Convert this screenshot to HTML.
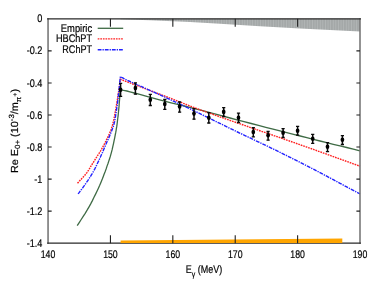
<!DOCTYPE html>
<html><head><meta charset="utf-8"><style>
html,body{margin:0;padding:0;background:#fff;}
svg{display:block;}
svg text{text-rendering:geometricPrecision;}
text{font-family:"Liberation Sans",sans-serif;font-size:11px;fill:#000;stroke:#000;stroke-width:0.2px;}
</style></head><body>
<svg width="374" height="291" viewBox="0 0 374 291">
<defs><pattern id="hatch" width="2.6" height="20" patternUnits="userSpaceOnUse"><rect width="2.6" height="20" fill="#a4a8a8"/><rect x="0" width="0.8" height="20" fill="#b3b7b7"/></pattern><filter id="tb" x="0" y="0" width="374" height="291" filterUnits="userSpaceOnUse"><feGaussianBlur stdDeviation="0.3"/></filter></defs>
<rect width="374" height="291" fill="#fff"/>
<path d="M120.5,18.85 L120.5,19.2 L150,20.3 L190,21.9 L220,23.8 L260,26.2 L300,28.5 L320,29.6 L360,31.4 L360,18.85 Z" fill="url(#hatch)"/>
<path d="M77.2,225.7 L79.2,222.6 L81.2,219.5 L83.2,216.4 L85.2,213.3 L87.1,210.2 L88.9,207.1 L90.7,203.9 L92.4,200.6 L94.0,197.3 L95.6,194.1 L97.1,191.0 L98.4,188.2 L99.6,185.6 L100.6,183.2 L101.5,180.9 L102.4,178.8 L103.2,176.7 L103.9,174.8 L104.6,173.0 L105.2,171.5 L105.7,170.1 L106.2,168.7 L106.7,167.1 L107.3,165.4 L108.0,163.5 L108.7,161.4 L109.4,159.2 L110.1,157.0 L110.8,154.6 L111.5,152.1 L112.2,149.4 L112.8,146.6 L113.5,143.6 L114.1,140.7 L114.7,137.8 L115.2,135.1 L115.7,132.7 L116.1,130.5 L116.4,128.3 L116.8,126.2 L117.1,124.0 L117.4,121.5 L117.7,118.8 L118.1,115.8 L118.4,112.8 L118.7,109.7 L119.0,106.8 L119.2,104.0 L119.4,101.4 L119.6,99.0 L119.8,96.7 L119.9,94.4 L120.0,92.1 L120.2,89.8 L121.5,90.0 L122.5,90.2 L123.5,90.3 L124.9,90.6 L126.9,91.0 L130.0,91.8 L134.4,93.0 L139.8,94.4 L145.9,96.1 L152.3,97.9 L158.6,99.6 L164.6,101.2 L170.1,102.6 L175.4,103.9 L180.7,105.2 L186.1,106.5 L191.7,107.8 L197.5,109.3 L203.7,110.9 L210.0,112.6 L216.6,114.4 L223.3,116.2 L230.1,118.0 L237.0,119.8 L244.0,121.6 L251.2,123.5 L258.5,125.4 L265.8,127.3 L273.0,129.1 L280.0,130.9 L286.8,132.6 L293.6,134.4 L300.2,136.0 L306.8,137.7 L313.4,139.3 L320.0,141.0 L326.7,142.7 L333.3,144.3 L340.0,145.9 L346.7,147.5 L353.3,149.2 L360.0,150.8" fill="none" stroke="#3f6b45" stroke-width="1.3"/>
<path d="M77.5,183.2 L78.9,181.7 L80.4,180.1 L81.8,178.6 L83.2,177.1 L84.6,175.5 L85.9,173.9 L87.1,172.3 L88.2,170.7 L89.2,169.1 L90.2,167.4 L91.3,165.5 L92.6,163.5 L94.0,161.3 L95.6,158.8 L97.2,156.2 L98.9,153.6 L100.5,151.0 L102.0,148.4 L103.4,145.8 L104.8,143.2 L106.1,140.6 L107.4,138.0 L108.6,135.5 L109.6,133.2 L110.5,131.1 L111.2,129.3 L111.7,127.6 L112.3,125.8 L112.8,123.9 L113.4,121.5 L114.0,118.7 L114.6,115.7 L115.2,112.4 L115.8,109.0 L116.4,105.5 L117.0,102.0 L117.6,98.4 L118.1,94.7 L118.7,90.9 L119.3,87.0 L119.8,83.1 L120.4,79.3 L121.7,79.8 L122.7,80.1 L123.6,80.5 L124.9,81.0 L126.9,81.7 L130.0,82.9 L134.4,84.6 L139.9,86.6 L146.1,89.0 L152.6,91.5 L159.0,93.9 L165.0,96.2 L170.5,98.3 L175.7,100.4 L180.9,102.4 L186.2,104.5 L191.7,106.6 L197.5,108.8 L203.7,111.1 L210.2,113.4 L216.9,115.8 L223.7,118.2 L230.6,120.6 L237.5,123.0 L244.5,125.4 L251.6,127.9 L258.8,130.4 L265.9,132.8 L273.0,135.3 L280.0,137.7 L286.8,140.1 L293.5,142.4 L300.2,144.8 L306.8,147.1 L313.4,149.4 L320.0,151.8 L326.7,154.2 L333.3,156.6 L340.0,159.0 L346.7,161.4 L353.3,163.8 L360.0,166.2" fill="none" stroke="#ff2020" stroke-width="1.4" stroke-dasharray="1.7 0.9"/>
<path d="M78.1,193.9 L79.3,192.4 L80.4,190.8 L81.6,189.3 L82.7,187.8 L83.9,186.2 L85.1,184.5 L86.3,182.7 L87.6,180.9 L88.9,178.9 L90.1,177.0 L91.4,175.0 L92.6,172.9 L93.8,170.8 L94.9,168.7 L96.0,166.5 L97.0,164.3 L98.1,162.0 L99.2,159.7 L100.3,157.3 L101.4,154.7 L102.6,152.2 L103.7,149.6 L104.8,147.0 L105.8,144.6 L106.8,142.2 L107.9,139.9 L108.9,137.6 L109.8,135.4 L110.7,133.3 L111.5,131.3 L112.2,129.6 L112.7,128.1 L113.2,126.8 L113.7,125.4 L114.1,123.7 L114.6,121.5 L115.1,118.9 L115.6,115.9 L116.1,112.7 L116.6,109.3 L117.1,105.7 L117.6,102.0 L118.1,98.1 L118.5,94.0 L119.0,89.7 L119.5,85.3 L119.9,80.9 L120.4,76.6 L121.7,77.3 L122.7,77.8 L123.6,78.4 L124.9,79.1 L126.9,80.1 L130.0,81.5 L134.4,83.5 L139.9,85.9 L146.1,88.7 L152.6,91.6 L159.0,94.5 L165.0,97.2 L170.5,99.7 L175.7,102.2 L180.9,104.6 L186.2,107.1 L191.7,109.7 L197.5,112.5 L203.7,115.5 L210.2,118.7 L216.9,121.9 L223.7,125.3 L230.6,128.7 L237.5,132.0 L244.5,135.3 L251.6,138.7 L258.8,142.1 L265.9,145.5 L273.0,148.9 L280.0,152.3 L286.8,155.7 L293.5,159.1 L300.2,162.4 L306.8,165.8 L313.4,169.2 L320.0,172.7 L326.7,176.2 L333.3,179.7 L340.0,183.3 L346.7,186.9 L353.3,190.4 L360.0,194.0" fill="none" stroke="#2222ff" stroke-width="1.4" stroke-dasharray="3.8 1 1.3 1"/>
<path d="M120.6,83.2 V96.6" stroke="#0a0a0a" stroke-width="1.5" fill="none"/><path d="M119.0,83.4 H122.19999999999999 M119.0,96.39999999999999 H122.19999999999999" stroke="#0a0a0a" stroke-width="1.3" fill="none"/>
<ellipse cx="120.6" cy="89.8" rx="1.85" ry="2.3" fill="#000"/>
<path d="M135.4,82.7 V94.4" stroke="#0a0a0a" stroke-width="1.5" fill="none"/><path d="M133.8,82.9 H137.0 M133.8,94.2 H137.0" stroke="#0a0a0a" stroke-width="1.3" fill="none"/>
<ellipse cx="135.4" cy="88.1" rx="1.85" ry="2.3" fill="#000"/>
<path d="M150.3,94.2 V105.7" stroke="#0a0a0a" stroke-width="1.5" fill="none"/><path d="M148.70000000000002,94.4 H151.9 M148.70000000000002,105.5 H151.9" stroke="#0a0a0a" stroke-width="1.3" fill="none"/>
<ellipse cx="150.3" cy="99.7" rx="1.85" ry="2.3" fill="#000"/>
<path d="M164.8,99.3 V109.5" stroke="#0a0a0a" stroke-width="1.5" fill="none"/><path d="M163.20000000000002,99.5 H166.4 M163.20000000000002,109.3 H166.4" stroke="#0a0a0a" stroke-width="1.3" fill="none"/>
<ellipse cx="164.8" cy="104" rx="1.85" ry="2.3" fill="#000"/>
<path d="M179.6,101.8 V112.3" stroke="#0a0a0a" stroke-width="1.5" fill="none"/><path d="M178.0,102.0 H181.2 M178.0,112.1 H181.2" stroke="#0a0a0a" stroke-width="1.3" fill="none"/>
<ellipse cx="179.6" cy="106.5" rx="1.85" ry="2.3" fill="#000"/>
<path d="M194,108.39999999999999 V119.4" stroke="#0a0a0a" stroke-width="1.5" fill="none"/><path d="M192.4,108.6 H195.6 M192.4,119.2 H195.6" stroke="#0a0a0a" stroke-width="1.3" fill="none"/>
<ellipse cx="194" cy="113.6" rx="1.85" ry="2.3" fill="#000"/>
<path d="M208.8,112.5 V123.2" stroke="#0a0a0a" stroke-width="1.5" fill="none"/><path d="M207.20000000000002,112.7 H210.4 M207.20000000000002,123.0 H210.4" stroke="#0a0a0a" stroke-width="1.3" fill="none"/>
<ellipse cx="208.8" cy="117.7" rx="1.85" ry="2.3" fill="#000"/>
<path d="M223.7,107.39999999999999 V116.7" stroke="#0a0a0a" stroke-width="1.5" fill="none"/><path d="M222.1,107.6 H225.29999999999998 M222.1,116.5 H225.29999999999998" stroke="#0a0a0a" stroke-width="1.3" fill="none"/>
<ellipse cx="223.7" cy="111.9" rx="1.85" ry="2.3" fill="#000"/>
<path d="M238.5,113.0 V122.7" stroke="#0a0a0a" stroke-width="1.5" fill="none"/><path d="M236.9,113.2 H240.1 M236.9,122.5 H240.1" stroke="#0a0a0a" stroke-width="1.3" fill="none"/>
<ellipse cx="238.5" cy="117.7" rx="1.85" ry="2.3" fill="#000"/>
<path d="M253.3,127.5 V137" stroke="#0a0a0a" stroke-width="1.5" fill="none"/><path d="M251.70000000000002,127.7 H254.9 M251.70000000000002,136.8 H254.9" stroke="#0a0a0a" stroke-width="1.3" fill="none"/>
<ellipse cx="253.3" cy="132" rx="1.85" ry="2.3" fill="#000"/>
<path d="M268.1,131.3 V140.3" stroke="#0a0a0a" stroke-width="1.5" fill="none"/><path d="M266.5,131.5 H269.70000000000005 M266.5,140.10000000000002 H269.70000000000005" stroke="#0a0a0a" stroke-width="1.3" fill="none"/>
<ellipse cx="268.1" cy="135.3" rx="1.85" ry="2.3" fill="#000"/>
<path d="M283.1,128.4 V137.7" stroke="#0a0a0a" stroke-width="1.5" fill="none"/><path d="M281.5,128.6 H284.70000000000005 M281.5,137.5 H284.70000000000005" stroke="#0a0a0a" stroke-width="1.3" fill="none"/>
<ellipse cx="283.1" cy="132.8" rx="1.85" ry="2.3" fill="#000"/>
<path d="M297.6,126.2 V135.4" stroke="#0a0a0a" stroke-width="1.5" fill="none"/><path d="M296.0,126.4 H299.20000000000005 M296.0,135.20000000000002 H299.20000000000005" stroke="#0a0a0a" stroke-width="1.3" fill="none"/>
<ellipse cx="297.6" cy="130.7" rx="1.85" ry="2.3" fill="#000"/>
<path d="M312.7,134.20000000000002 V143.5" stroke="#0a0a0a" stroke-width="1.5" fill="none"/><path d="M311.09999999999997,134.4 H314.3 M311.09999999999997,143.3 H314.3" stroke="#0a0a0a" stroke-width="1.3" fill="none"/>
<ellipse cx="312.7" cy="138.7" rx="1.85" ry="2.3" fill="#000"/>
<path d="M327.5,142.5 V151.8" stroke="#0a0a0a" stroke-width="1.5" fill="none"/><path d="M325.9,142.7 H329.1 M325.9,151.60000000000002 H329.1" stroke="#0a0a0a" stroke-width="1.3" fill="none"/>
<ellipse cx="327.5" cy="146.7" rx="1.85" ry="2.3" fill="#000"/>
<path d="M342.4,135.5 V144.7" stroke="#0a0a0a" stroke-width="1.5" fill="none"/><path d="M340.79999999999995,135.7 H344.0 M340.79999999999995,144.5 H344.0" stroke="#0a0a0a" stroke-width="1.3" fill="none"/>
<ellipse cx="342.4" cy="139.7" rx="1.85" ry="2.3" fill="#000"/>
<path d="M48.05,18.25 V243.79999999999998 M360.0,18.25 V243.79999999999998" stroke="#707070" stroke-width="1.5" fill="none"/>
<path d="M47.15,18.85 H360.9 M47.15,243.2 H360.9" stroke="#2a2a2a" stroke-width="1.3" fill="none"/>
<path d="M120.6,243.0 L120.6,240.6 L342.3,238.4 L342.3,243.0 Z" fill="#ffa500"/>
<path d="M110.44,243.2 v-8 M110.44,18.85 v8 M172.83,243.2 v-8 M172.83,18.85 v8 M235.22,243.2 v-8 M235.22,18.85 v8 M297.61,243.2 v-8 M297.61,18.85 v8 M48.05,50.90 h3.6 M360.0,50.90 h-3.6 M48.05,82.95 h3.6 M360.0,82.95 h-3.6 M48.05,115.00 h3.6 M360.0,115.00 h-3.6 M48.05,147.05 h3.6 M360.0,147.05 h-3.6 M48.05,179.10 h3.6 M360.0,179.10 h-3.6 M48.05,211.15 h3.6 M360.0,211.15 h-3.6" stroke="#222" stroke-width="1.1" fill="none"/>
<g filter="url(#tb)">
<text x="42.4" y="22.40" text-anchor="end" textLength="5.1" lengthAdjust="spacingAndGlyphs">0</text>
<text x="42.4" y="54.45" text-anchor="end" textLength="15.7" lengthAdjust="spacingAndGlyphs">-0.2</text>
<text x="42.4" y="86.50" text-anchor="end" textLength="15.7" lengthAdjust="spacingAndGlyphs">-0.4</text>
<text x="42.4" y="118.55" text-anchor="end" textLength="15.7" lengthAdjust="spacingAndGlyphs">-0.6</text>
<text x="42.4" y="150.60" text-anchor="end" textLength="15.7" lengthAdjust="spacingAndGlyphs">-0.8</text>
<text x="42.4" y="182.65" text-anchor="end" textLength="8.1" lengthAdjust="spacingAndGlyphs">-1</text>
<text x="42.4" y="214.70" text-anchor="end" textLength="15.7" lengthAdjust="spacingAndGlyphs">-1.2</text>
<text x="42.4" y="246.75" text-anchor="end" textLength="15.7" lengthAdjust="spacingAndGlyphs">-1.4</text>
<text x="48.05" y="258.0" text-anchor="middle" textLength="14.6" lengthAdjust="spacingAndGlyphs">140</text>
<text x="110.44" y="258.0" text-anchor="middle" textLength="14.6" lengthAdjust="spacingAndGlyphs">150</text>
<text x="172.83" y="258.0" text-anchor="middle" textLength="14.6" lengthAdjust="spacingAndGlyphs">160</text>
<text x="235.22" y="258.0" text-anchor="middle" textLength="14.6" lengthAdjust="spacingAndGlyphs">170</text>
<text x="297.61" y="258.0" text-anchor="middle" textLength="14.6" lengthAdjust="spacingAndGlyphs">180</text>
<text x="360.00" y="258.0" text-anchor="middle" textLength="14.6" lengthAdjust="spacingAndGlyphs">190</text>
<text x="92.1" y="31.9" text-anchor="end" textLength="31.3" lengthAdjust="spacingAndGlyphs">Empiric</text>
<text x="92.1" y="42.2" text-anchor="end" textLength="36.2" lengthAdjust="spacingAndGlyphs">HBChPT</text>
<text x="92.1" y="52.9" text-anchor="end" textLength="29.8" lengthAdjust="spacingAndGlyphs">RChPT</text>
<path d="M97.7,28.3 H123.2" stroke="#3f6b45" stroke-width="1.3"/>
<path d="M97.7,38.9 H123.2" stroke="#ff2020" stroke-width="1.4" stroke-dasharray="1.7 0.9"/>
<path d="M97.7,49.7 H123.2" stroke="#2222ff" stroke-width="1.4" stroke-dasharray="3.8 1 1.3 1"/>
<text x="185.8" y="272.9" font-size="11.5" textLength="36.4" lengthAdjust="spacingAndGlyphs">E<tspan font-size="8.5" dy="3.6">γ</tspan><tspan dy="-3.6"> (MeV)</tspan></text>
<g transform="translate(17.5,173) rotate(-90) scale(0.985,0.93)"><text id="ylab" x="0" y="0">Re E<tspan font-size="8" dy="2.5">0+</tspan><tspan dy="-2.5"> (10</tspan><tspan font-size="8" dy="-4">-3</tspan><tspan dy="4">/m</tspan><tspan font-size="8" dy="3.3">π</tspan><tspan font-size="6.5" dy="-4.0" dx="0.2">+</tspan><tspan dy="0.7" dx="0.2">)</tspan></text></g>
</g>
</svg>
</body></html>
